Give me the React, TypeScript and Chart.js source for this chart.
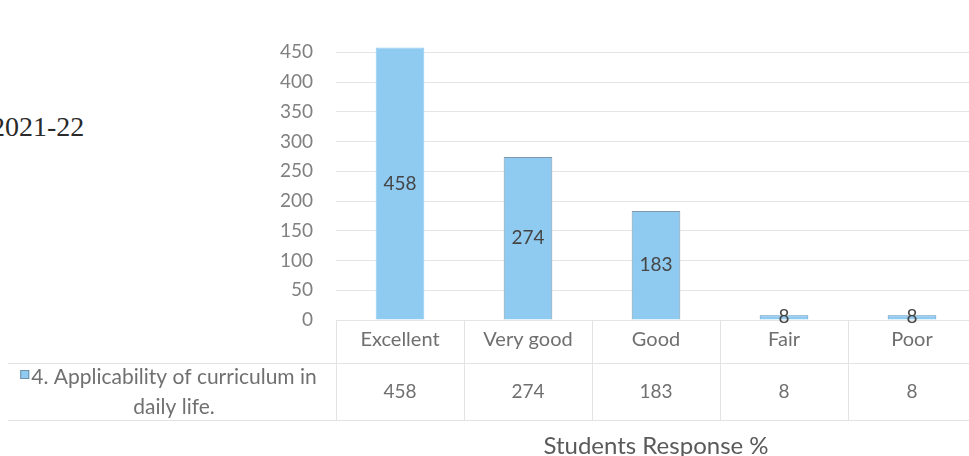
import React, { useEffect, useRef } from "react";
import { Chart, registerables } from "chart.js";

Chart.register(...registerables);

const categories = ["Excellent", "Very good", "Good", "Fair", "Poor"];
const values = [458, 274, 183, 8, 8];
const seriesLines = ["4. Applicability of curriculum in", "daily life."];
const axisTitle = "Students Response %";
const sideLabel = "2021-22";
const yMin = 0;
const yMax = 480;
const yStep = 50;

const BAR_FILL = "#8fcaf0";
const BAR_EDGE = ["#8fcaf0", "#7d98b0", "#7d98b0", "#5f97c2", "#5f97c2"];
const FONT = "Lato, 'Open Sans', sans-serif";

const dataLabelPlugin = {
  id: "dataLabels",
  afterDatasetsDraw(chart: any) {
    const ctx = chart.ctx;
    const meta = chart.getDatasetMeta(0);
    ctx.save();
    ctx.font = `19px ${FONT}`;
    ctx.fillStyle = "#454545";
    ctx.textAlign = "center";
    ctx.textBaseline = "middle";
    meta.data.forEach((el: any, i: number) => {
      const y = (el.y + el.base) / 2;
      ctx.fillText(String(values[i]), el.x, y);
    });
    ctx.restore();
  },
};

const tablePlugin = {
  id: "dataTable",
  afterDraw(chart: any) {
    const ctx = chart.ctx;
    const area = chart.chartArea;
    const xs = chart.scales.x;
    const n = categories.length;
    const w = (area.right - area.left) / n;
    const rowTop = area.bottom + 43;
    const rowBottom = area.bottom + 100;
    ctx.save();
    ctx.strokeStyle = "#e3e3e3";
    ctx.lineWidth = 1;
    ctx.beginPath();
    ctx.moveTo(8, Math.round(rowTop) + 0.5);
    ctx.lineTo(area.right, Math.round(rowTop) + 0.5);
    ctx.moveTo(8, Math.round(rowBottom) + 0.5);
    ctx.lineTo(area.right, Math.round(rowBottom) + 0.5);
    for (let i = 0; i <= n; i++) {
      const x = Math.round(area.left + i * w) + 0.5;
      ctx.moveTo(x, area.bottom);
      ctx.lineTo(x, rowBottom);
    }
    ctx.stroke();

    // values row
    ctx.font = `19px ${FONT}`;
    ctx.fillStyle = "#707070";
    ctx.textAlign = "center";
    ctx.textBaseline = "middle";
    values.forEach((v, i) => {
      ctx.fillText(String(v), xs.getPixelForValue(i), area.bottom + 72);
    });

    // series name with legend key
    ctx.font = `21px ${FONT}`;
    const cx = area.left / 2 + 6;
    const l1y = area.bottom + 57;
    const l2y = area.bottom + 87;
    const tw = ctx.measureText(seriesLines[0]).width;
    ctx.fillText(seriesLines[0], cx, l1y);
    ctx.fillText(seriesLines[1], cx, l2y);
    const kx = cx - tw / 2 - 11;
    ctx.fillStyle = BAR_FILL;
    ctx.fillRect(kx, l1y - 7, 9, 9);
    ctx.strokeStyle = "#6f8ea8";
    ctx.strokeRect(kx + 0.5, l1y - 6.5, 8, 8);
    ctx.restore();
  },
};

export default function App() {
  const canvasRef = useRef<HTMLCanvasElement | null>(null);

  useEffect(() => {
    const canvas = canvasRef.current;
    if (!canvas) return;
    const chart = new Chart(canvas, {
      type: "bar",
      data: {
        labels: categories,
        datasets: [
          {
            label: seriesLines.join(" "),
            data: values,
            backgroundColor: BAR_FILL,
            borderColor: BAR_EDGE,
            borderWidth: 1,
            barPercentage: 0.38,
            categoryPercentage: 1,
          },
        ],
      },
      options: {
        responsive: false,
        animation: false,
        devicePixelRatio: 1,
        layout: { padding: { top: 2, left: 0, right: 0, bottom: 0 } },
        plugins: {
          legend: { display: false },
          tooltip: { enabled: false },
          title: { display: false },
        },
        scales: {
          x: {
            grid: { display: false, drawTicks: false },
            border: { display: false },
            ticks: {
              font: { family: FONT, size: 20 },
              color: "#6f6f6f",
              padding: 8,
              maxRotation: 0,
              autoSkip: false,
            },
            title: {
              display: true,
              text: axisTitle,
              font: { family: FONT, size: 24, lineHeight: 0.85 },
              color: "#5a5a5a",
              padding: { top: 0, bottom: 0 },
            },
            afterFit(scale: any) {
              scale.height = 136;
            },
          },
          y: {
            min: yMin,
            max: yMax,
            grid: { color: "#e4e4e4", drawTicks: false },
            border: { display: false },
            ticks: {
              stepSize: yStep,
              includeBounds: false,
              font: { family: FONT, size: 19 },
              color: "#808080",
              padding: 23,
            },
            afterFit(scale: any) {
              scale.width = 336;
            },
          },
        },
      },
      plugins: [dataLabelPlugin, tablePlugin],
    });
    return () => chart.destroy();
  }, []);

  return (
    <div
      style={{
        position: "fixed",
        left: 0,
        top: 0,
        width: 969,
        height: 456,
        overflow: "hidden",
        background: "#ffffff",
      }}
    >
      <div
        style={{
          position: "absolute",
          left: -9,
          top: 110,
          fontFamily: "'Liberation Serif', 'DejaVu Serif', serif",
          fontSize: 28,
          lineHeight: "34px",
          color: "#2a2a2a",
          whiteSpace: "nowrap",
        }}
      >
        {sideLabel}
      </div>
      <canvas
        ref={canvasRef}
        width={976}
        height={456}
        style={{ position: "absolute", left: 0, top: 0, width: 976, height: 456 }}
      />
    </div>
  );
}
